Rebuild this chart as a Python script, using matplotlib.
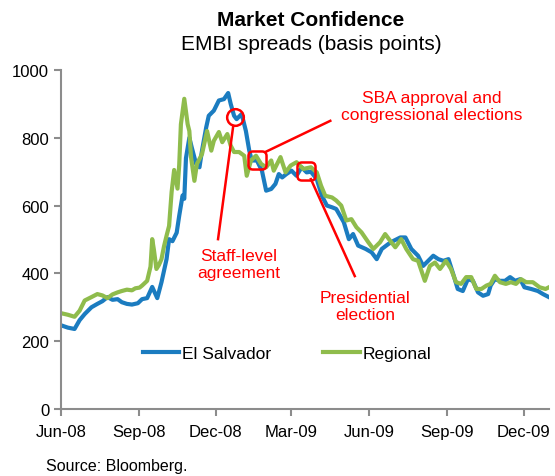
import matplotlib
matplotlib.use("Agg")
import matplotlib.pyplot as plt
import matplotlib.dates as mdates
import matplotlib.patches as mpatches
import pandas as pd

plt.rcParams["font.family"] = ["Liberation Sans", "DejaVu Sans"]

# El Salvador EMBI spread (bp)
es_dates = [
    "2008-06-02", "2008-06-09", "2008-06-17", "2008-06-23", "2008-06-29", "2008-07-07",
    "2008-07-14", "2008-07-20", "2008-07-26", "2008-08-01", "2008-08-07", "2008-08-12",
    "2008-08-18", "2008-08-24", "2008-08-31", "2008-09-05", "2008-09-11", "2008-09-17",
    "2008-09-23", "2008-09-28", "2008-10-04", "2008-10-07", "2008-10-11", "2008-10-16",
    "2008-10-19", "2008-10-23", "2008-10-25", "2008-10-27", "2008-10-31", "2008-11-03",
    "2008-11-08", "2008-11-12", "2008-11-15", "2008-11-20", "2008-11-23", "2008-11-29",
    "2008-12-05", "2008-12-11", "2008-12-16", "2008-12-19", "2008-12-23", "2008-12-26",
    "2009-01-01", "2009-01-06", "2009-01-10", "2009-01-13", "2009-01-19", "2009-01-25",
    "2009-01-30", "2009-02-05", "2009-02-10", "2009-02-14", "2009-02-18", "2009-02-23",
    "2009-03-01", "2009-03-07", "2009-03-13", "2009-03-19", "2009-03-24", "2009-03-31",
    "2009-04-06", "2009-04-12", "2009-04-18", "2009-04-23", "2009-05-02", "2009-05-08",
    "2009-05-13", "2009-05-19", "2009-05-28", "2009-06-04", "2009-06-10", "2009-06-16",
    "2009-06-24", "2009-06-30", "2009-07-08", "2009-07-14", "2009-07-21", "2009-07-29",
    "2009-08-04", "2009-08-10", "2009-08-16", "2009-08-22", "2009-08-28", "2009-09-03",
    "2009-09-08", "2009-09-14", "2009-09-20", "2009-09-26", "2009-10-02", "2009-10-08",
    "2009-10-14", "2009-10-20", "2009-10-23", "2009-10-28", "2009-11-03", "2009-11-09",
    "2009-11-15", "2009-11-21", "2009-11-27", "2009-12-02", "2009-12-10", "2009-12-18",
    "2009-12-24", "2009-12-31",
]
es_values = [
    246, 240, 236, 262, 280, 300,
    310, 318, 330, 322, 324, 315,
    310, 308, 312, 324, 327, 360,
    327, 374, 442, 501, 495, 520,
    570, 630, 620, 740, 800, 770,
    723, 713, 762, 831, 865, 880,
    910, 914, 932, 900, 865, 855,
    870, 820, 762, 733, 733, 703,
    644, 649, 664, 693, 683, 693,
    703, 688, 713, 698, 700, 678,
    629, 600, 595, 590, 551, 501,
    516, 482, 472, 462, 442, 472,
    487, 496, 506, 506, 472, 452,
    422, 437, 452, 442, 437, 442,
    403, 354, 348, 383, 378, 344,
    334, 339, 364, 383, 378, 378,
    389, 378, 383, 359, 354, 348,
    339, 330,
]

# Regional EMBI spread (bp)
reg_dates = [
    "2008-06-02", "2008-06-09", "2008-06-17", "2008-06-23", "2008-06-29", "2008-07-07",
    "2008-07-14", "2008-07-20", "2008-07-26", "2008-08-01", "2008-08-07", "2008-08-12",
    "2008-08-18", "2008-08-24", "2008-08-28", "2008-09-02", "2008-09-05", "2008-09-11",
    "2008-09-15", "2008-09-17", "2008-09-19", "2008-09-22", "2008-09-25", "2008-09-28",
    "2008-10-01", "2008-10-04", "2008-10-07", "2008-10-10", "2008-10-13", "2008-10-17",
    "2008-10-19", "2008-10-21", "2008-10-25", "2008-10-29", "2008-10-31", "2008-11-02",
    "2008-11-06", "2008-11-09", "2008-11-15", "2008-11-21", "2008-11-26", "2008-11-29",
    "2008-12-05", "2008-12-09", "2008-12-15", "2008-12-19", "2008-12-23", "2008-12-29",
    "2009-01-04", "2009-01-07", "2009-01-12", "2009-01-18", "2009-01-24", "2009-01-30",
    "2009-02-05", "2009-02-08", "2009-02-16", "2009-02-22", "2009-02-28", "2009-03-07",
    "2009-03-15", "2009-03-24", "2009-03-31", "2009-04-05", "2009-04-10", "2009-04-18",
    "2009-04-23", "2009-04-29", "2009-05-05", "2009-05-11", "2009-05-17", "2009-05-23",
    "2009-05-31", "2009-06-06", "2009-06-14", "2009-06-20", "2009-06-26", "2009-07-02",
    "2009-07-09", "2009-07-15", "2009-07-23", "2009-07-29", "2009-08-06", "2009-08-12",
    "2009-08-18", "2009-08-24", "2009-08-31", "2009-09-06", "2009-09-12", "2009-09-18",
    "2009-09-24", "2009-09-30", "2009-10-06", "2009-10-12", "2009-10-18", "2009-10-23",
    "2009-10-28", "2009-11-03", "2009-11-10", "2009-11-16", "2009-11-22", "2009-11-28",
    "2009-12-04", "2009-12-12", "2009-12-20", "2009-12-27", "2009-12-31",
]
reg_values = [
    282, 278, 272, 290, 320, 330,
    339, 335, 327, 338, 344, 348,
    352, 350, 356, 358, 364, 378,
    420, 501, 470, 413, 425, 442,
    480, 511, 540, 640, 705, 650,
    720, 840, 915, 840, 820, 743,
    673, 723, 752, 820, 762, 791,
    817, 787, 811, 777, 758, 758,
    747, 688, 733, 747, 723, 713,
    733, 703, 743, 698, 718, 728,
    708, 713, 698, 659, 629, 624,
    615, 600, 556, 560, 536, 521,
    492, 472, 492, 516, 496, 477,
    501, 472, 442, 437, 378, 422,
    432, 413, 437, 413, 374, 369,
    389, 389, 354, 354, 364, 369,
    393, 374, 369, 374, 369, 383,
    374, 374, 359, 354, 359,
]

# events marked on the chart: (date, spread)
event_dates = ["2008-12-24", "2009-01-19", "2009-03-18"]
event_values = [861, 734, 703]

tick_dates = ["2008-06-01", "2008-09-01", "2008-12-01", "2009-03-01",
              "2009-06-01", "2009-09-01", "2009-12-01"]
y_ticks = [0, 200, 400, 600, 800, 1000]

BLUE = "#1b7cc0"
GREEN = "#8fbc4c"
RED = "#ff0000"
GRAY = "#8c8c8c"


def rounded_square():
    box = mpatches.FancyBboxPatch((-1, -1), 2, 2, boxstyle="round,pad=0,rounding_size=0.5")
    return box.get_path()


def main():
    fig = plt.figure(figsize=(5.55, 4.77), dpi=100)
    ax = fig.add_axes([0.110, 0.1405, 0.879, 0.7107])

    es_x = pd.to_datetime(es_dates)
    reg_x = pd.to_datetime(reg_dates)
    ev_x = pd.to_datetime(event_dates)

    ax.plot(es_x, es_values, color=BLUE, lw=3, label="El Salvador", solid_joinstyle="round")
    ax.plot(reg_x, reg_values, color=GREEN, lw=3, label="Regional", solid_joinstyle="round")

    # event markers
    ax.plot(ev_x[0], event_values[0], marker="o", ms=12, mfc="none", mec=RED, mew=1.8, zorder=5)
    sq = rounded_square()
    for i in (1, 2):
        ax.plot(ev_x[i], event_values[i], marker=sq, ms=13, mfc="none", mec=RED, mew=1.8, zorder=5)

    # leader lines and labels
    ax.plot(pd.to_datetime(["2008-12-22", "2008-12-04"]), [835, 501], color=RED, lw=1.8, zorder=5)
    ax.text(pd.Timestamp("2008-12-29"), 428, "Staff-level\nagreement", color=RED,
            fontsize=12.5, ha="center", va="center", linespacing=1.15)

    ax.plot(pd.to_datetime(["2009-01-29", "2009-04-16"]), [758, 850], color=RED, lw=1.8, zorder=5)
    ax.text(pd.Timestamp("2009-08-14"), 894, "SBA approval and\ncongressional elections", color=RED,
            fontsize=12.5, ha="center", va="center", linespacing=1.15)

    ax.plot(pd.to_datetime(["2009-03-24", "2009-05-15"]), [678, 392], color=RED, lw=1.8, zorder=5)
    ax.text(pd.Timestamp("2009-05-27"), 304, "Presidential\nelection", color=RED,
            fontsize=12.5, ha="center", va="center", linespacing=1.15)

    ax.set_xlim(pd.Timestamp("2008-06-01"), pd.Timestamp("2009-12-31"))
    ax.set_ylim(0, 1000)
    ax.set_xticks(pd.to_datetime(tick_dates))
    ax.xaxis.set_major_formatter(mdates.DateFormatter("%b-%y"))
    ax.set_yticks(y_ticks)

    for side in ("top", "right"):
        ax.spines[side].set_visible(False)
    for side in ("left", "bottom"):
        ax.spines[side].set_color(GRAY)
        ax.spines[side].set_linewidth(1.5)
    ax.tick_params(axis="both", direction="out", length=5, width=1.5, color=GRAY,
                   labelsize=12, labelcolor="black")
    ax.tick_params(axis="x", pad=6)

    ax.legend(loc="center", bbox_to_anchor=(0.463, 0.165), ncol=2, frameon=False,
              handlelength=2.1, handletextpad=0.15, columnspacing=3, fontsize=12.5)

    fig.text(311 / 555, 1 - 20 / 477, "Market Confidence", ha="center", va="center",
             fontsize=15, fontweight="bold")
    fig.text(311 / 555, 1 - 45 / 477, "EMBI spreads (basis points)", ha="center", va="center",
             fontsize=15)
    fig.text(46 / 555, 1 - 467 / 477, "Source: Bloomberg.", ha="left", va="center", fontsize=11.5)

    fig.savefig("out.png", dpi=100)


if __name__ == "__main__":
    main()
